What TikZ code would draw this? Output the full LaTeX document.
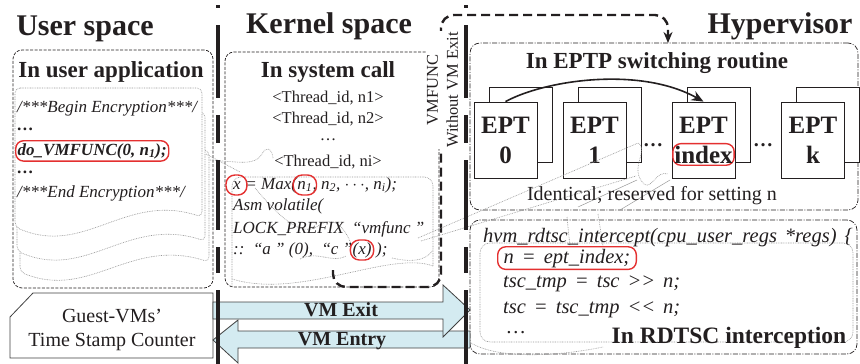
\documentclass[tikz,border=0pt]{standalone}
\usepackage{fontspec}
\setmainfont{Liberation Serif}
\usetikzlibrary{arrows.meta}
\definecolor{redc}{RGB}{228,48,48}
\definecolor{lblue}{RGB}{212,235,241}
\definecolor{scribc}{RGB}{150,150,150}
\definecolor{inkc}{RGB}{35,31,32}
\newcommand{\fsz}[1]{\fontsize{#1}{#1}\selectfont}
\newcommand{\widesp}{\spaceskip=8pt\relax}
\begin{document}
\begin{tikzpicture}[x=1pt,y=-1pt,
  divider/.style={draw=inkc, line width=3.2pt, dash pattern=on 3pt off 17pt on 73pt off 17pt on 28pt off 17pt on 70pt off 17pt on 26pt off 17pt on 90pt},
  areabox/.style={draw=inkc, line width=0.7pt, dash pattern=on 3pt off 1.5pt, rounded corners=9pt, inner sep=0pt},
  dashdotbox/.style={draw=inkc, line width=0.7pt, dash pattern=on 5pt off 1.5pt on 1pt off 1.5pt, rounded corners=10pt, inner sep=0pt},
  scrib/.style={draw=scribc, line width=0.6pt, dash pattern=on 0.8pt off 0.9pt},
  docsh/.style={scrib, fill=white, rounded corners=5pt},
  redbox/.style={draw=redc, line width=1.4pt, rounded corners=8pt},
  thickdash/.style={draw=inkc, line width=2.4pt, dash pattern=on 9pt off 5pt},
  ttl/.style={font=\fsz{30}\bfseries, anchor=base, inner sep=0pt, text=inkc},
  subttl/.style={font=\fsz{23}\bfseries, anchor=base, inner sep=0pt, text=inkc},
  ucode/.style={font=\fsz{17}\itshape, anchor=base west, inner sep=0pt, text=inkc},
  ubold/.style={font=\fsz{17}\bfseries\itshape, anchor=base west, inner sep=0pt, text=inkc},
  thr/.style={font=\fsz{16.5}, anchor=base, inner sep=0pt, text=inkc},
  kcode/.style={font=\fsz{17}\itshape, anchor=base west, inner sep=0pt, text=inkc},
  hcode/.style={font=\fsz{20.5}\itshape, execute at begin node=\widesp, anchor=base west, inner sep=0pt, text=inkc},
  eptf/.style={draw=inkc, line width=0.8pt, fill=white, minimum width=63pt, minimum height=76pt, inner sep=0pt},
  eptb/.style={draw=inkc, line width=0.8pt, fill=white, minimum width=63pt, minimum height=75pt, inner sep=0pt},
  eptl/.style={font=\fsz{25}\bfseries, anchor=base, inner sep=0pt, text=inkc},
  vmarrow/.style={draw=black!75, line width=0.8pt, fill=lblue},
  vmlbl/.style={font=\fsz{20}\bfseries, anchor=base, inner sep=0pt, text=inkc},
  gtext/.style={font=\fsz{20}, anchor=base, inner sep=0pt, text=inkc}
]
\useasboundingbox (0,0) rectangle (860,364);

% ---------- titles ----------
\node[ttl] (us) at (85,35) {User space};
\node[ttl] (ks) at (329,34) {Kernel space};
\node[ttl] (hv) at (780,34) {Hypervisor};

% ---------- user application ----------
\node[areabox, minimum width=200pt, minimum height=238pt] (uapp) at (113,169) {};
\node[subttl] (uappt) at (111,77) {In user application};
\draw[docsh] (20,150) -- (209,150) -- (209,262) .. controls (130,237) and (90,300) .. (20,272) -- cycle;
\draw[docsh] (17,112) -- (205,112) -- (205,241) .. controls (127,216) and (87,281) .. (17,251) -- cycle;
\draw[docsh] (15,88) -- (202,88) -- (202,217) .. controls (125,192) and (85,257) .. (15,227) -- cycle;
\node[ucode] (u1) at (17,112) {/***Begin Encryption***/};
\node[ubold] (u2) at (17,130) {…};
\node[ubold, redbox, inner xsep=2pt, inner ysep=2.5pt] (u3) at (15,155) {do\_VMFUNC(0, n\textsubscript{1});};
\node[ubold] (u4) at (17,173) {…};
\node[ucode] (u5) at (17,197) {/***End Encryption***/};

% ---------- kernel system call ----------
\node[areabox, minimum width=214pt, minimum height=235pt] (kbox) at (332,169.5) {};
\node[subttl] (kboxt) at (328,77) {In system call};
\draw[scrib, rounded corners=9pt] (232,287) -- (232,177) -- (433,177) -- (433,266);
\draw[scrib] (433,266) .. controls (390,250) and (300,300) .. (232,279);
\draw[scrib] (206,154) -- (240,172);
\draw[scrib] (210,160) .. controls (240,162) and (255,166) .. (262,154) .. controls (266,146) and (272,148) .. (273,158);
\draw[scrib] (255,188) .. controls (278,215) and (300,238) .. (318,226) .. controls (338,212) and (348,236) .. (352,246);
\draw[scrib] (300,259) .. controls (318,250) and (332,264) .. (346,256);
\draw[scrib] (392,258) .. controls (410,262) and (425,262) .. (433,250);
\node[thr] (t1) at (328,102) {<Thread\_id, n1>};
\node[thr] (t2) at (328,123) {<Thread\_id, n2>};
\node[thr] (t3) at (328,140) {…};
\node[thr] (t4) at (328,166) {<Thread\_id, ni>};
\node[kcode] (ka) at (233,189) {x};
\node[kcode] (kb) at (ka.base east) {~= Max(};
\node[kcode] (kc) at (kb.base east) {n\textsubscript{1}};
\node[kcode] (kd) at (kc.base east) {, n\textsubscript{2}, $\cdots$, n\textsubscript{i});};
\node[kcode] (ke) at (233,210) {Asm volatile(};
\node[kcode] (kf) at (233,233) {LOCK\_PREFIX \ “vmfunc ”};
\node[kcode] (kg) at (233,254) {::\ \ “a ” (0),\ \ “c ”~};
\node[kcode] (kh) at (kg.base east) {(x)};
\node[kcode] (ki) at (kh.base east) {~);};
\draw[redbox, rounded corners=9pt] ([xshift=-7pt, yshift=-6pt]ka.base west) rectangle ([xshift=6pt, yshift=14pt]ka.base east);
\draw[redbox, rounded corners=9pt] ([xshift=-4pt, yshift=-6pt]kc.base west) rectangle ([xshift=4pt, yshift=14pt]kc.base east);
\draw[redbox, rounded corners=9pt] ([xshift=-2pt, yshift=-6pt]kh.base west) rectangle ([xshift=2pt, yshift=14pt]kh.base east);

% ---------- VMFUNC path ----------
\coordinate (vs) at (333,270);
\coordinate (vt) at (668,43);
\draw[thickdash, rounded corners=13pt, -{Stealth[length=11pt, width=9pt]}] (vs) -- (333,287) -- (441,287) -- (441,15) -- (668,15) -- (vt);
\node[rotate=90, align=center, fill=white, inner sep=1pt, font=\fontsize{16.5}{20}\selectfont, text=inkc] (vmf) at (442.5,90) {VMFUNC\\Without VM Exit};

% ---------- hypervisor: EPTP switching ----------
\node[dashdotbox, minimum width=388pt, minimum height=167pt] (eptp) at (664,126.5) {};
\node[subttl] (eptpt) at (657,68) {In EPTP switching routine};
\node[eptb] (e0b) at (520.5,124.5) {};
\node[eptf] (e0) at (505.5,140) {};
\node[eptb] (e1b) at (609.5,124.5) {};
\node[eptf] (e1) at (594.5,140) {};
\node[eptb] (eib) at (718.5,124.5) {};
\node[eptf] (ei) at (703.5,140) {};
\node[eptb] (ekb) at (828,124.5) {};
\node[eptf] (ek) at (813,140) {};
\node[eptl] (l0a) at (505.5,133) {EPT};
\node[eptl] (l0b) at (505.5,163) {0};
\node[eptl] (l1a) at (594.5,133) {EPT};
\node[eptl] (l1b) at (594.5,163) {1};
\node[eptl] (lia) at (703.5,133) {EPT};
\node[eptl, draw=redc, line width=1.4pt, rounded corners=8pt, inner xsep=1.5pt, inner ysep=2pt] (lib) at (703.5,163) {index};
\node[eptl] (lka) at (813,133) {EPT};
\node[eptl] (lkb) at (813,163) {k};
\node[eptl, font=\fsz{20}\bfseries] (dots1) at (653,146) {…};
\node[eptl, font=\fsz{20}\bfseries] (dots2) at (763,146) {…};
\draw[draw=inkc, line width=1.6pt, -{Stealth[length=12pt, width=10pt]}] (e0.north) .. controls (545,80) and (640,66) .. (ei.north);
\draw[scrib] (418,238) -- (638,143);
\draw[scrib] (421,241) -- (636,176);
\draw[scrib] (638,143) .. controls (650,150) and (628,168) .. (644,184) .. controls (652,190) and (656,170) .. (668,174);
\draw[draw=scribc, line width=0.5pt] (578,207) -- (637,180);
\draw[draw=scribc, line width=0.5pt] (620,210) -- (670,180);
\node[font=\fsz{20}, anchor=base, inner sep=0pt, text=inkc] (ident) at (652,200) {Identical; reserved for setting n};

% ---------- hypervisor: RDTSC ----------
\node[dashdotbox, minimum width=387pt, minimum height=134pt] (rbox) at (663.5,287) {};
\draw[scrib, rounded corners=10pt] (480,243) rectangle (853,342);
\draw[scrib] (471,343) .. controls (500,360) and (560,356) .. (603,347);
\draw[scrib] (567,217) -- (570,247);
\draw[scrib] (598,214) -- (603,246);
\node[hcode] (r1) at (483,242) {hvm\_rdtsc\_intercept(cpu\_user\_regs *regs) \{};
\node[hcode, redbox, inner xsep=6pt, inner ysep=2pt] (r2) at (497,263) {n = ept\_index;};
\node[hcode] (r3) at (503,287) {tsc\_tmp = tsc >{}> n;};
\node[hcode] (r4) at (503,313) {tsc = tsc\_tmp <{}< n;};
\node[hcode] (r5) at (507,333) {…};
\node[font=\fsz{23.5}\bfseries, anchor=base, inner sep=0pt, text=inkc] (rt) at (729,343) {In RDTSC interception};

% ---------- guest TSC and VM arrows ----------
\draw[draw=black!75, line width=0.8pt, fill=white] (33,293) -- (213,293) -- (213,358) -- (10,358) -- (10,317) -- cycle;
\node[gtext] (g1) at (112,322) {Guest-VMs’};
\node[gtext] (g2) at (112,346) {Time Stamp Counter};
\draw[vmarrow] (470,331) -- (238,331) -- (238,320) -- (213,340) -- (238,363) -- (238,348) -- (470,348) -- cycle;
\draw[vmarrow] (213,302) -- (443,302) -- (443,285) -- (470,310) -- (443,337) -- (443,319) -- (213,319) -- cycle;
\node[vmlbl] (vexit) at (341,316) {VM Exit};
\node[vmlbl] (ventry) at (342,345) {VM Entry};

% ---------- dividers ----------
\coordinate (d1t) at (218,5); \coordinate (d1b) at (218,364);
\draw[divider] (d1t) -- (d1b);
\coordinate (d2t) at (466,5); \coordinate (d2b) at (466,364);
\draw[divider] (d2t) -- (d2b);
\end{tikzpicture}
\end{document}
